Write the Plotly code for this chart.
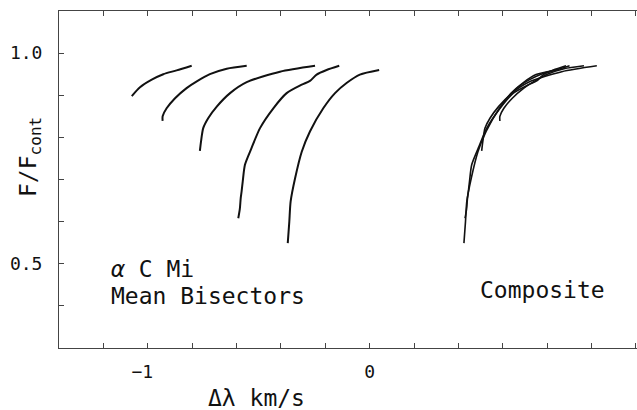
import plotly.graph_objects as go

# Mean bisectors (delta lambda in km/s, F/Fcont)
bis1_x = [-1.072, -1.035, -0.982, -0.930, -0.870, -0.802]
bis1_y = [0.898, 0.919, 0.937, 0.950, 0.959, 0.970]

bis2_x = [-0.933, -0.933, -0.915, -0.877, -0.825, -0.779, -0.720, -0.644, -0.554]
bis2_y = [0.839, 0.850, 0.869, 0.893, 0.917, 0.933, 0.950, 0.963, 0.970]

bis3_x = [-0.765, -0.760, -0.750, -0.727, -0.689, -0.629, -0.554, -0.404, -0.246]
bis3_y = [0.768, 0.790, 0.822, 0.846, 0.873, 0.905, 0.931, 0.956, 0.970]

bis4_x = [-0.592, -0.585, -0.581, -0.577, -0.572, -0.562, -0.532, -0.494, -0.434,
          -0.374, -0.306, -0.269, -0.239, -0.194, -0.137]
bis4_y = [0.608, 0.630, 0.656, 0.672, 0.695, 0.735, 0.775, 0.822, 0.869,
          0.905, 0.925, 0.934, 0.949, 0.960, 0.970]

bis5_x = [-0.369, -0.362, -0.356, -0.336, -0.306, -0.269, -0.209, -0.156, -0.104, -0.044, 0.043]
bis5_y = [0.549, 0.600, 0.648, 0.703, 0.766, 0.814, 0.869, 0.905, 0.929, 0.949, 0.960]

bisectors_x = [bis1_x, bis2_x, bis3_x, bis4_x, bis5_x]
bisectors_y = [bis1_y, bis2_y, bis3_y, bis4_y, bis5_y]

# shifts applied to build the composite
composite_shift = [1.703, 1.52, 1.27, 1.022, 0.794]

x_tickvals = [-1.4, -1.2, -1.0, -0.8, -0.6, -0.4, -0.2, 0.0, 0.2, 0.4, 0.6, 0.8, 1.0, 1.2]
x_ticktext = ["", "", "\u22121\u2007", "", "", "", "", "0", "", "", "", "", "", ""]
y_tickvals = [0.3, 0.4, 0.5, 0.6, 0.7, 0.8, 0.9, 1.0, 1.1]
y_ticktext = ["", "", "0.5", "", "", "", "", "1.0", ""]

FONT = "DejaVu Sans Mono"

fig = go.Figure()
for xs, ys in zip(bisectors_x, bisectors_y):
    fig.add_trace(go.Scatter(x=xs, y=ys, mode="lines",
                             line=dict(color="#111111", width=2, shape="spline", smoothing=0.7),
                             showlegend=False))
for xs, ys, dx in zip(bisectors_x, bisectors_y, composite_shift):
    fig.add_trace(go.Scatter(x=[v + dx for v in xs], y=ys, mode="lines",
                             line=dict(color="#111111", width=1.6, shape="spline", smoothing=0.7),
                             showlegend=False))

axis_common = dict(showgrid=False, zeroline=False, showline=True, linecolor="#444444",
                   linewidth=1, ticks="inside", ticklen=5, tickcolor="#444444",
                   tickfont=dict(family=FONT, size=18, color="#111111"))

fig.update_xaxes(range=[-1.4, 1.205], tickmode="array", tickvals=x_tickvals,
                 ticktext=x_ticktext, mirror="ticks", ticklabelstandoff=7, **axis_common)
fig.update_yaxes(range=[0.3, 1.1], tickmode="array", tickvals=y_tickvals,
                 ticktext=y_ticktext, mirror=False, ticklabelstandoff=12, **axis_common)

ann_font = dict(family=FONT, size=23, color="#111111")
fig.add_annotation(x=-1.176, y=0.488, xref="x", yref="y", text="<i>\u03b1</i> C Mi",
                   showarrow=False, xanchor="left", yanchor="middle", font=ann_font)
fig.add_annotation(x=-1.176, y=0.424, xref="x", yref="y", text="Mean Bisectors",
                   showarrow=False, xanchor="left", yanchor="middle", font=ann_font)
fig.add_annotation(x=0.487, y=0.438, xref="x", yref="y", text="Composite",
                   showarrow=False, xanchor="left", yanchor="middle", font=ann_font)
fig.add_annotation(x=0.341, y=-0.148, xref="paper", yref="paper", text="\u0394\u03bb km/s",
                   showarrow=False, xanchor="center", yanchor="middle", font=ann_font)
fig.add_annotation(x=-0.05, y=0.567, xref="paper", yref="paper", text="F/F<sub>cont</sub>",
                   showarrow=False, xanchor="center", yanchor="middle", textangle=-90,
                   font=ann_font)

fig.update_layout(width=637, height=410, margin=dict(l=59, r=0, t=11, b=62),
                  paper_bgcolor="white", plot_bgcolor="white")

fig.write_html("out.html")
